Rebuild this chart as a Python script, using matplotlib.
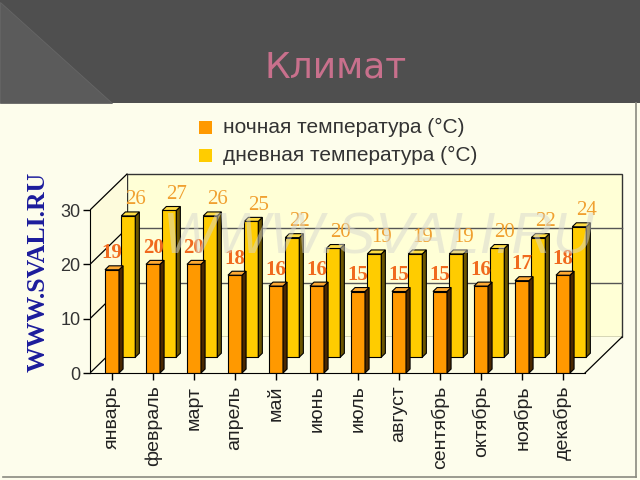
import matplotlib
matplotlib.use("Agg")
import matplotlib.pyplot as plt
from matplotlib.patches import Polygon, Rectangle

months = ["январь", "февраль", "март", "апрель", "май", "июнь",
          "июль", "август", "сентябрь", "октябрь", "ноябрь", "декабрь"]
night = [19, 20, 20, 18, 16, 16, 15, 15, 15, 16, 17, 18]
day = [26, 27, 26, 25, 22, 20, 19, 19, 19, 20, 22, 24]
yticks = [0, 10, 20, 30]

W, H = 640, 480
fig = plt.figure(figsize=(6.4, 4.8), dpi=100, facecolor="#fdfdec")


def fx(px):
    return px / W


def fy(py):
    return 1 - py / H


# dark title band
fig.patches.append(Rectangle((0, fy(103)), 1, 103 / H, transform=fig.transFigure,
                             facecolor="#4f4f4f", edgecolor="none", zorder=0))
fig.patches.append(Polygon([(0, fy(2)), (0, fy(103)), (fx(112), fy(103))],
                           closed=True, transform=fig.transFigure,
                           facecolor="#5b5b5b", edgecolor="#666666", lw=0.6, zorder=0))
fig.text(fx(336), fy(68), "Климат", color="#c8708c", fontsize=26,
         family="DejaVu Sans", ha="center", va="center")

# panel border
fig.lines.append(plt.Line2D([fx(636), fx(636)], [fy(103), fy(477)],
                            transform=fig.transFigure, color="#8a8a80", lw=1.2))
fig.lines.append(plt.Line2D([fx(3), fx(636)], [fy(477), fy(477)],
                            transform=fig.transFigure, color="#8a8a80", lw=1.2))

# legend
for py, col, txt in [(127, "#ff9900", "ночная температура (°C)"),
                     (155, "#ffcc00", "дневная температура (°C)")]:
    fig.patches.append(Rectangle((fx(199), fy(py + 6.5)), 13 / W, 13 / H,
                                 transform=fig.transFigure, facecolor=col,
                                 edgecolor="none"))
    fig.text(fx(223), fy(py), txt, fontsize=15, color="#333333",
             family="Liberation Sans", ha="left", va="center")

# chart axes: front plane, month i at px 112 + 41*i, 0 at py 373, 5.433 px per degree
px_unit = 41.0
py_unit = 5.433
x_left = (90 - 112) / px_unit
x_right = (585 - 112) / px_unit
ax = fig.add_axes([fx(90), fy(373), (630 - 90) / W, (373 - 160) / H])
ax.set_xlim(x_left, (630 - 112) / px_unit)
ax.set_ylim(0, (373 - 160) / py_unit)
ax.patch.set_visible(False)

DX = 37 / px_unit
DY = 36 / py_unit


def P(x, y, z):
    return (x + z * DX, y + z * DY)


ymax = 30
# back wall, left wall, floor
back = [P(x_left, 0, 1), P(x_right, 0, 1), P(x_right, ymax, 1), P(x_left, ymax, 1)]
ax.add_patch(Polygon(back, closed=True, facecolor="#ffffd6", edgecolor="#333333",
                     lw=1.0, zorder=1))
left = [P(x_left, 0, 0), P(x_left, 0, 1), P(x_left, ymax, 1), P(x_left, ymax, 0)]
ax.add_patch(Polygon(left, closed=True, facecolor="#fdfbdc", edgecolor="none", zorder=1))
floor = [P(x_left, 0, 0), P(x_right, 0, 0), P(x_right, 0, 1), P(x_left, 0, 1)]
ax.add_patch(Polygon(floor, closed=True, facecolor="#fdfde6", edgecolor="none", zorder=1))
for v in yticks:
    a, b = P(x_left, v, 0), P(x_left, v, 1)
    ax.plot([a[0], b[0]], [a[1], b[1]], color="black", lw=0.9, zorder=2)
    if 0 < v < ymax:
        a, b = P(x_left, v, 1), P(x_right, v, 1)
        ax.plot([a[0], b[0]], [a[1], b[1]], color="#555555", lw=1.0, zorder=2)
a, b = P(x_right, 0, 0), P(x_right, 0, 1)
ax.plot([a[0], b[0]], [a[1], b[1]], color="black", lw=0.9, zorder=2)


def bars3d(vals, z, face, side, top, lab_col, lab_dx, bold):
    w = 14 / px_unit
    d = 0.11
    xs = [i + z * DX for i in range(len(vals))]
    ax.bar(xs, vals, width=w, bottom=z * DY, color=face, edgecolor="black",
           lw=0.8, zorder=3)
    for i, v in enumerate(vals):
        x0 = i - w / 2
        x1 = i + w / 2
        ax.add_patch(Polygon([P(x1, 0, z), P(x1, 0, z + d), P(x1, v, z + d), P(x1, v, z)],
                             closed=True, facecolor=side, edgecolor="black", lw=0.8,
                             zorder=3))
        ax.add_patch(Polygon([P(x0, v, z), P(x1, v, z), P(x1, v, z + d), P(x0, v, z + d)],
                             closed=True, facecolor=top, edgecolor="black", lw=0.8,
                             zorder=3))
        lx, ly = P(i + lab_dx, v, z)
        ax.text(lx, ly + 3.0, str(v), color=lab_col, fontsize=15,
                family="Liberation Serif", weight="bold" if bold else "normal",
                ha="center", va="center", zorder=5)


bars3d(day, 0.44, "#ffcc00", "#6b5500", "#ffdd44", "#f0a030", 0.17, False)
bars3d(night, 0.0, "#ff9900", "#4a2800", "#ffaa33", "#f06a1e", 0.0, True)

# axes, ticks
for s in ["top", "right"]:
    ax.spines[s].set_visible(False)
ax.spines["left"].set_bounds(0, ymax)
ax.spines["bottom"].set_bounds(x_left, x_right)
ax.spines["left"].set_zorder(4)
ax.spines["bottom"].set_zorder(4)
ax.set_yticks(yticks)
ax.set_xticks(range(len(months)))
ax.set_xticklabels(months, rotation=90, fontsize=14, family="Liberation Sans",
                   color="#222222")
ax.tick_params(axis="y", length=5, width=1, labelsize=13, pad=2, labelcolor="#333333")
ax.tick_params(axis="x", length=5, width=1, pad=4)
for t in ax.get_yticklabels():
    t.set_family("Liberation Sans")

# watermarks
fig.text(fx(378), fy(238), "WWW.SVALI.RU", fontsize=41, style="italic",
         family="Liberation Sans", color="#d6d6d0", alpha=0.5, ha="center",
         va="center", zorder=10)
fig.text(fx(38), fy(272), "WWW.SVALI.RU", fontsize=18.5, rotation=90,
         family="Liberation Serif", weight="bold", color="#1c1c9c",
         ha="center", va="center")

fig.savefig("out.png", dpi=100, facecolor=fig.get_facecolor())
